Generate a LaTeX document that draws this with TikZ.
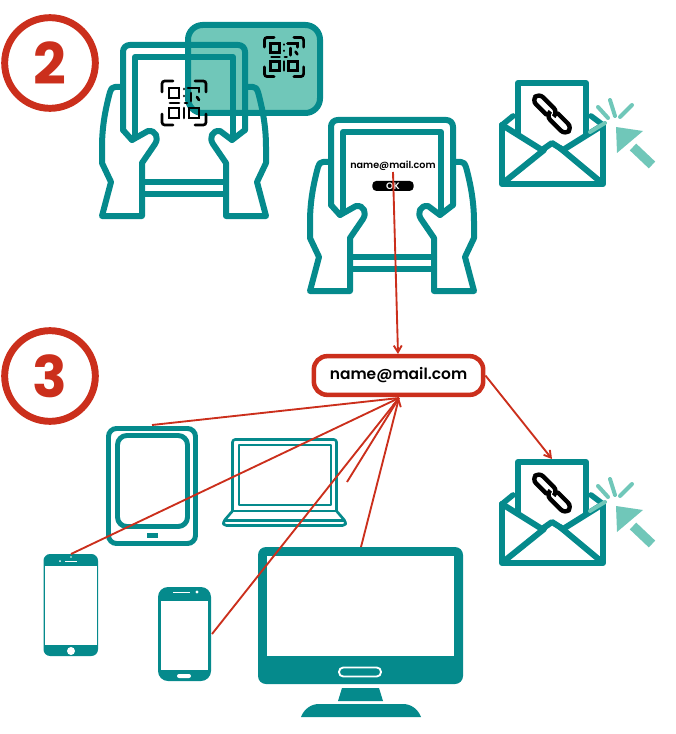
\documentclass[tikz,border=0pt]{standalone}
\usepackage{fontspec}
\setmainfont{Poppins}
\newfontfamily\mailfont{Poppins SemiBold}
\usetikzlibrary{arrows.meta, positioning, calc}
\definecolor{tealdark}{HTML}{058A8C}
\definecolor{teallight}{HTML}{70C7B9}
\definecolor{redline}{HTML}{CB2F1C}
\tikzset{
  outline/.style = {draw=tealdark, line width=4.5pt, line join=round, line cap=round},
  thinline/.style = {draw=tealdark, line width=2pt, line join=round},
  stepcircle/.style = {draw=redline, line width=5.2pt, circle, minimum size=68pt, inner sep=0pt,
                  font=\fontsize{43}{43}\selectfont\bfseries, text=redline},
  mailbox/.style = {draw=redline, line width=3.4pt, rectangle, rounded corners=10pt,
                  minimum width=127pt, minimum height=29pt, inner sep=0pt, fill=white,
                  font=\fontsize{11.6}{14}\mailfont},
  smalltext/.style = {inner sep=0pt, font=\fontsize{7.2}{9}\mailfont},
  okbutton/.style = {fill=black, text=white, rectangle, rounded corners=3pt, inner sep=0pt,
                  minimum width=31pt, minimum height=7.5pt, font=\fontsize{7}{7}\mailfont},
  arr/.style = {-{Straight Barb[length=5pt, width=6pt]}, draw=redline, line width=1.4pt},
  plainred/.style = {draw=redline, line width=1.4pt},
  burst/.style = {draw=teallight, line width=3pt, line cap=round},
  qrline/.style = {draw=black, line width=2pt, line cap=round},
  % tablet held in two hands, origin at the tablet's top left
  hands/.pic = {
    \draw[outline, rounded corners=5pt] (0,85) -- (0,0) -- (122,0) -- (122,85);
    \draw[outline] (0,85) -- (9,95);
    \draw[outline] (122,85) -- (109,95);
    \draw[outline] (12,92) -- (12,12) -- (110,12) -- (110,92);
    % left hand
    \draw[outline] (-3,42) -- (-8,42) .. controls (-11,42) and (-12,44) .. (-13,47)
      .. controls (-17,62) and (-21,80) .. (-21,102) -- (-21,118) -- (-12,137) -- (-21,171)
      -- (19,171) -- (19,118) -- (32,99) .. controls (36,93) and (33,85) .. (25,86) -- (9,95);
    % right hand
    \draw[outline] (125,42) -- (130,42) .. controls (133,42) and (134,44) .. (135,47)
      .. controls (139,62) and (143,80) .. (143,102) -- (143,118) -- (134,137) -- (143,171)
      -- (103,171) -- (103,118) -- (90,99) .. controls (86,93) and (89,85) .. (97,86) -- (109,95);
    % bottom edge of the tablet
    \draw[outline] (19,137) -- (103,137);
    \draw[outline] (19,149) -- (103,149);
  },
  % qr code, origin at its centre
  qrcode/.pic = {
    \foreach \sx in {1,-1} \foreach \sy in {1,-1}
      \draw[qrline, xscale=\sx, yscale=\sy, rounded corners=2pt] (22,11) -- (22,22) -- (11,22);
    \draw[qrline, line cap=butt] (-15,-15) rectangle (-5,-5);
    \draw[qrline, line cap=butt] (-15,5) rectangle (-5,15);
    \draw[qrline, line cap=butt] (5,5) rectangle (15,15);
    \draw[qrline] (-14,0) -- (-5,0);
    \draw[qrline] (0,-14) -- (0,-14.01);
    \draw[qrline] (0,-7) -- (0,-6.99);
    \draw[qrline] (0,5) -- (0,15);
    \draw[qrline] (4,-15) -- (15,-15) -- (15,-11);
    \draw[qrline] (7,-10) -- (7,-2);
    \draw[qrline] (13,-6) -- (15,-3);
    \draw[qrline] (1,0) -- (3,0);
  },
  % envelope with a link and the cursor, origin at top left of the paper
  linkmail/.pic = {
    \draw[outline] (0,51) -- (0,0) -- (68,0) -- (68,51);
    \draw[outline, line width=4.2pt] (-16,42) -- (-5,33);
    \draw[outline, line width=4.2pt] (85,42) -- (73,33);
    \draw[outline] (-16,42) -- (-16,101) -- (85,101) -- (85,42);
    \draw[outline] (-16,42) -- (24,67) -- (34,60) -- (45,67) -- (85,42);
    \draw[outline] (-15,100) -- (26,67);
    \draw[outline] (84,100) -- (42,65);
    \begin{scope}[shift={(34,31)}, rotate=-45]
      \draw[line width=3.3pt, black, rounded corners=4.5pt, line cap=round]
        (-4,4.5) -- (-24,4.5) -- (-24,-5.5) -- (3,-5.5) -- (3,0);
      \draw[line width=3.3pt, black, rounded corners=4.5pt, line cap=round]
        (4,-4.5) -- (24,-4.5) -- (24,5.5) -- (-3,5.5) -- (-3,0);
    \end{scope}
    % cursor
    \draw[burst] (72,49) -- (87,40);
    \draw[burst] (80,24) -- (90,35);
    \draw[burst] (92,17) -- (97,33);
    \draw[burst] (102,34) -- (114,22);
    \fill[teallight] (98,44) -- (125,48) -- (99,70) -- cycle;
    \draw[teallight, line width=7pt] (115,64) -- (134,82);
  },
}

\begin{document}
\begin{tikzpicture}[x=.75pt, y=-.75pt]
  \useasboundingbox (0,0) rectangle (675,734);

  % ── Step circles ──────────────────────────────────────────────────────────
  \node[stepcircle] (StepTwo)   at (50,63)  {2};
  \node[stepcircle] (StepThree) at (50,376) {3};

  % ── Card with the code ────────────────────────────────────────────────────
  \draw[fill=teallight, draw=tealdark, line width=4.5pt, rounded corners=11pt] (188,25) rectangle (320,113);
  \pic at (284,57) [scale=.89] {qrcode};

  % ── Tablets in hands ──────────────────────────────────────────────────────
  \pic at (123,45) {hands};
  \pic at (184,103) {qrcode};
  \pic at (331,120) {hands};
  \node[smalltext]                 (SmallMail) at (393,166) {name@mail.com};
  \node[okbutton, below=11pt of SmallMail.center] (OkBtn) {OK};

  % ── Envelopes ─────────────────────────────────────────────────────────────
  \pic at (518,83) {linkmail};
  \pic at (518,462) {linkmail};

  % ── Devices ───────────────────────────────────────────────────────────────
  % tablet
  \draw[draw=tealdark, line width=3.7pt, rounded corners=6pt] (108.5,428.5) rectangle (195.5,543.5);
  \draw[draw=tealdark, line width=3.7pt, rounded corners=7pt] (117.5,435.5) rectangle (187.5,526.5);
  \fill[tealdark] (147,533) rectangle (158,538);
  % laptop
  \draw[thinline, rounded corners=2pt] (232.5,511) -- (232.5,439.5) -- (336.5,439.5) -- (336.5,511);
  \draw[thinline] (239,445) rectangle (331,505);
  \draw[thinline] (232,511) -- (337,511);
  \draw[thinline, rounded corners=2pt] (232.5,511) -- (223,522) -- (224,525.5) -- (345,525.5) -- (346,522) -- (336.5,511);
  \draw[thinline] (225,520.5) -- (344,520.5);
  % first phone
  \fill[tealdark, rounded corners=5pt] (43.5,554) rectangle (98,656);
  \fill[white] (45,566) rectangle (97.3,645);
  \fill[white] (71,651) circle[radius=4];
  \fill[white] (60,561) circle[radius=1];
  \fill[white] (71,557) circle[radius=.8];
  \fill[white] (65,560.5) rectangle (77,561.5);
  % second phone
  \fill[tealdark, rounded corners=7.5pt] (158,587) rectangle (211,681);
  \fill[white] (161,601) rectangle (208,670);
  \fill[white, rounded corners=1.5pt] (177,674) rectangle (191,678);
  \fill[white] (197,592) circle[radius=1.7];
  \fill[white] (173,591.5) rectangle (190,592.5);
  % monitor
  \fill[tealdark, rounded corners=6pt] (258,547) rectangle (463,684);
  \fill[white] (267,556) rectangle (454,656);
  \draw[white, line width=1.4pt, rounded corners=3.2pt] (339,667.5) rectangle (381,676.5);
  \fill[tealdark] (342,688) -- (379,688) -- (383,701) -- (338,701) -- cycle;
  \fill[tealdark] (301,717) .. controls (304,709) and (311,704) .. (319,704) -- (403,704)
    .. controls (411,704) and (418,709) .. (421,717) -- cycle;

  % ── Address box ───────────────────────────────────────────────────────────
  \node[mailbox] (MailBox) at (398.5,375.5) {name@mail.com};

  % ── Connector ends ────────────────────────────────────────────────────────
  \coordinate (FromTablet) at (152,425);
  \coordinate (FromPhoneA) at (71,554);
  \coordinate (FromPhoneB) at (212,634);
  \coordinate (FromLaptop) at (347,482);
  \coordinate (FromScreen) at (361,547);
  \coordinate (MailIn)     at (399,398);
  \coordinate (MailTop)    at (398,354);
  \coordinate (FromSmall)  at (393,172);
  \coordinate (ToLink)     at (552,459);

  % ── Connections ───────────────────────────────────────────────────────────
  \draw[arr] (FromSmall) -- (MailTop);
  \draw[plainred] (FromTablet) -- (MailIn);
  \draw[plainred] (FromPhoneA) -- (MailIn);
  \draw[plainred] (FromPhoneB) -- (MailIn);
  \draw[plainred] (FromLaptop) -- (MailIn);
  \draw[arr] (FromScreen) -- (MailIn);
  \draw[arr] (MailBox.east) -- (ToLink);

\end{tikzpicture}
\end{document}
